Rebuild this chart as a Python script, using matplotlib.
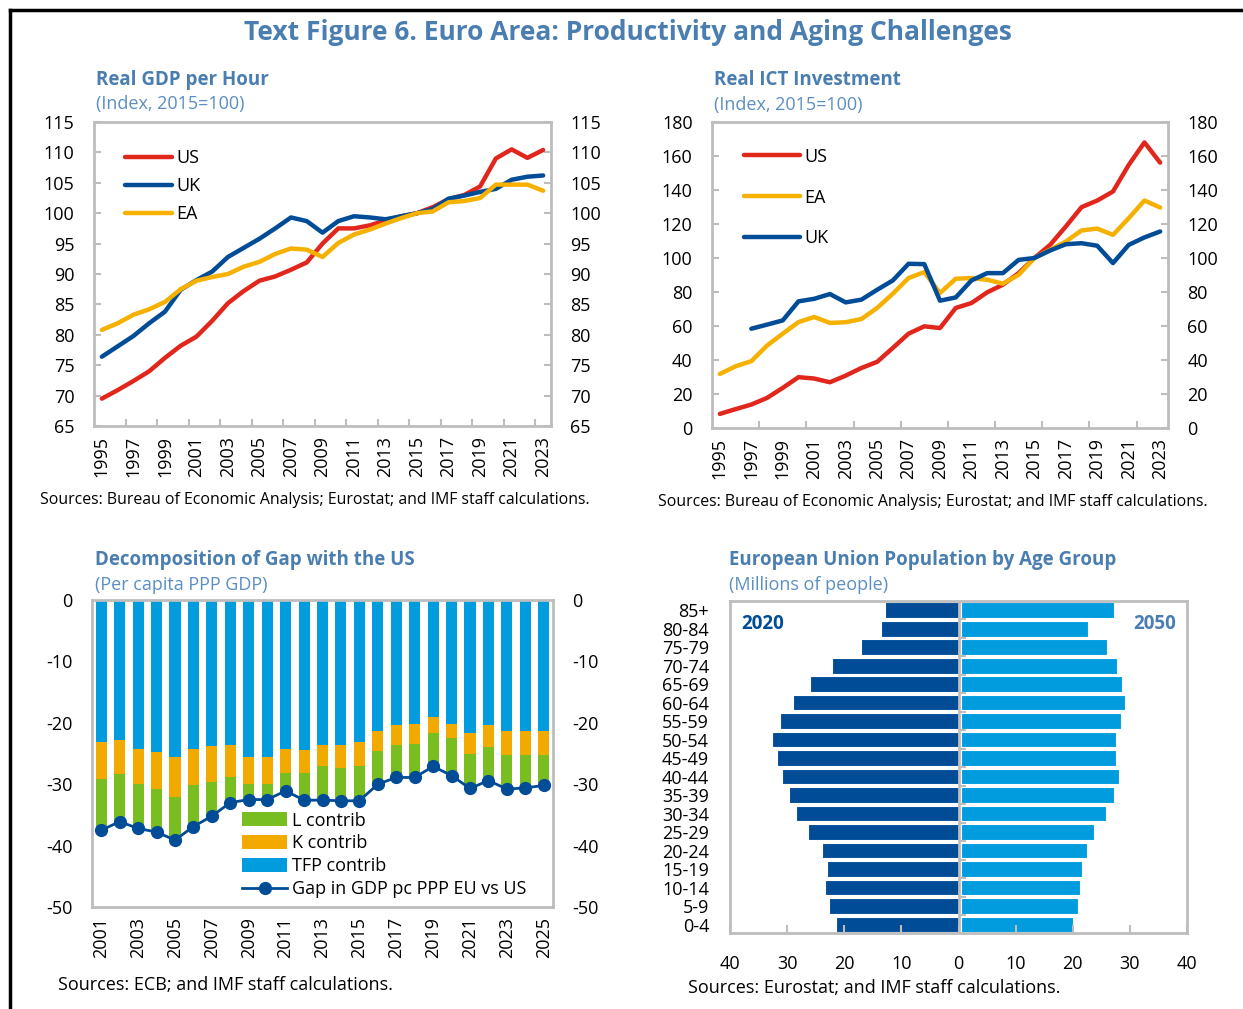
import matplotlib.pyplot as plt
import numpy as np
from matplotlib.lines import Line2D
from matplotlib.ticker import FuncFormatter

plt.rcParams['font.family'] = ['Open Sans', 'DejaVu Sans']
plt.rcParams['axes.unicode_minus'] = False

# ---- data ----
years = list(range(1995, 2024))

gdp_us = [69.5, 70.9, 72.4, 74.0, 76.2, 78.2, 79.7, 82.3, 85.2, 87.2, 88.9, 89.6, 90.7, 91.9,
          95.0, 97.5, 97.5, 98.0, 98.8, 99.5, 100.0, 101.0, 102.3, 103.0, 104.4, 109.0, 110.5,
          109.1, 110.4]
gdp_uk = [76.4, 78.1, 79.8, 81.9, 83.8, 87.4, 89.0, 90.4, 92.8, 94.3, 95.8, 97.5, 99.3, 98.7,
          96.8, 98.7, 99.5, 99.3, 99.0, 99.5, 100.0, 100.7, 102.4, 102.9, 103.5, 104.0, 105.5,
          106.0, 106.2]
gdp_ea = [80.8, 81.9, 83.3, 84.2, 85.4, 87.5, 88.9, 89.5, 90.0, 91.2, 92.0, 93.3, 94.2, 94.0,
          92.8, 95.1, 96.5, 97.3, 98.3, 99.2, 100.0, 100.3, 101.8, 102.0, 102.5, 104.7, 104.7,
          104.7, 103.7]

ict_us = [8.3, 11.1, 13.8, 17.7, 23.6, 29.9, 29.1, 26.9, 30.8, 35.3, 38.9, 47.1, 55.5, 59.8,
          58.8, 70.6, 73.5, 79.8, 84.3, 91.1, 100.0, 107.7, 118.5, 129.9, 133.8, 139.1, 154.7,
          168.0, 156.1]
ict_ea = [31.8, 36.3, 39.3, 48.5, 55.5, 62.3, 65.3, 61.8, 62.2, 64.1, 70.6, 79.0, 88.2, 91.7,
          79.4, 87.8, 88.2, 87.2, 84.9, 90.1, 100.0, 104.8, 109.7, 116.2, 117.3, 113.6, 123.4,
          133.8, 129.7]
ict_uk = [np.nan, np.nan, 58.4, 60.8, 63.3, 74.5, 76.0, 78.8, 73.9, 75.5, 81.3, 86.8, 96.6,
          96.4, 74.9, 76.8, 86.8, 91.1, 91.1, 98.9, 100.0, 104.4, 108.1, 108.7, 107.2, 97.0,
          107.7, 112.1, 115.6]

gap_years = list(range(2001, 2026))
tfp = [-23.1, -22.8, -24.2, -24.8, -25.6, -24.2, -23.7, -23.6, -25.5, -25.6, -24.3, -24.4,
       -23.6, -23.6, -23.1, -21.3, -20.4, -20.2, -19.0, -20.2, -21.6, -20.4, -21.4, -21.4, -21.3]
k_contrib = [-6.1, -5.6, -5.8, -6.0, -6.5, -6.0, -5.9, -5.3, -4.5, -4.3, -3.8, -3.7, -3.5,
             -3.8, -3.9, -3.3, -3.2, -3.3, -2.7, -2.3, -3.5, -3.5, -3.9, -3.9, -4.0]
l_contrib = [-8.3, -7.7, -7.2, -7.0, -7.0, -6.7, -5.6, -4.1, -2.5, -2.6, -3.0, -4.5, -5.5,
             -5.3, -5.7, -5.4, -5.3, -5.4, -5.4, -6.1, -5.6, -5.5, -5.5, -5.3, -4.9]
gap = [-37.5, -36.1, -37.2, -37.8, -39.1, -36.9, -35.2, -33.0, -32.5, -32.5, -31.1, -32.6,
       -32.6, -32.7, -32.7, -30.0, -28.9, -28.9, -27.1, -28.6, -30.7, -29.4, -30.8, -30.6, -30.2]

age_groups = ['0-4', '5-9', '10-14', '15-19', '20-24', '25-29', '30-34', '35-39', '40-44',
              '45-49', '50-54', '55-59', '60-64', '65-69', '70-74', '75-79', '80-84', '85+']
pop_2020 = [21.4, 22.6, 23.4, 23.1, 23.9, 26.3, 28.4, 29.6, 30.9, 31.8, 32.6, 31.3, 28.9,
            26.0, 22.1, 17.1, 13.6, 12.8]
pop_2050 = [19.6, 20.5, 20.9, 21.2, 22.1, 23.3, 25.5, 26.9, 27.7, 27.2, 27.1, 28.1, 28.7,
            28.2, 27.4, 25.6, 22.3, 26.8]

# ---- styles ----
W, H = 1243, 1009
RED = '#E1261C'
DBLUE = '#004C97'
YEL = '#F5B000'
SKY = '#009CDE'
ORANGE = '#F2A900'
GREEN = '#78BE20'
TITLE_C = '#4A7EB0'
SUB_C = '#5B8EC2'
FRAME_C = '#BDBDBD'
FS = 13

fig = plt.figure(figsize=(W / 100, H / 100), dpi=100)


def px_axes(l, t, r, b):
    return fig.add_axes([l / W, 1 - b / H, (r - l) / W, (b - t) / H])


def ftext(x, y, s, **kw):
    fig.text(x / W, 1 - y / H, s, va='center', **kw)


def frame(ax):
    for sp in ax.spines.values():
        sp.set_color(FRAME_C)
        sp.set_linewidth(2)


# border and main title
fig.add_artist(Line2D([10 / W, 10 / W], [0, 1 - 10 / H], color='black', lw=2.5))
fig.add_artist(Line2D([10 / W, 1], [1 - 10 / H, 1 - 10 / H], color='black', lw=2.5))
ftext(628, 32, 'Text Figure 6. Euro Area: Productivity and Aging Challenges',
      ha='center', fontsize=19, fontweight='bold', color=TITLE_C)


def line_panel(ax, series, ylim, yticks, minor):
    for vals, col, lab in series:
        ax.plot(years, vals, color=col, lw=3.2, label=lab, solid_capstyle='round')
    ax.set_xlim(1994.5, 2023.5)
    ax.set_ylim(*ylim)
    ax.set_yticks(yticks)
    ax.set_xticks(years[::2])
    ax.set_xticklabels([str(y) for y in years[::2]], rotation=90)
    ax.set_xticks(minor, minor=True)
    ax.tick_params(axis='x', which='major', length=0, labelsize=FS, pad=7)
    ax.tick_params(axis='x', which='minor', direction='in', length=5, width=1.5, color=FRAME_C)
    ax.tick_params(axis='y', direction='in', length=5, width=1.5, color=FRAME_C,
                   left=True, right=True, labelleft=True, labelright=True, labelsize=FS, pad=14)
    frame(ax)


# top left
ax1 = px_axes(94, 122, 551, 426)
line_panel(ax1, [(gdp_us, RED, 'US'), (gdp_uk, DBLUE, 'UK'), (gdp_ea, YEL, 'EA')],
           (65, 115), range(65, 116, 5), np.arange(1996.5, 2023, 2))
ax1.legend(loc='upper left', bbox_to_anchor=(0.052, 0.935), frameon=False, fontsize=FS,
           handlelength=2.6, handletextpad=0.25, labelspacing=0.55, borderaxespad=0)
ftext(96, 80, 'Real GDP per Hour', fontsize=13.5, fontweight='bold', color=TITLE_C)
ftext(96, 104, '(Index, 2015=100)', fontsize=13, color=SUB_C)
ftext(40, 500, 'Sources: Bureau of Economic Analysis; Eurostat; and IMF staff calculations.',
      fontsize=11.4)

# top right
ax2 = px_axes(712, 122, 1168, 428)
line_panel(ax2, [(ict_us, RED, 'US'), (ict_ea, YEL, 'EA'), (ict_uk, DBLUE, 'UK')],
           (0, 180), range(0, 181, 20), np.arange(1997.5, 2023, 3))
ax2.legend(loc='upper left', bbox_to_anchor=(0.055, 0.94), frameon=False, fontsize=FS,
           handlelength=3.1, handletextpad=0.2, labelspacing=1.27, borderaxespad=0)
ftext(714, 80, 'Real ICT Investment', fontsize=13.5, fontweight='bold', color=TITLE_C)
ftext(714, 105, '(Index, 2015=100)', fontsize=13, color=SUB_C)
ftext(658, 502, 'Sources: Bureau of Economic Analysis; Eurostat; and IMF staff calculations.',
      fontsize=11.4)

# bottom left
ax3 = px_axes(92, 600, 553, 907)
base_k = np.array(tfp)
base_l = base_k + np.array(k_contrib)
bw = 0.6
h_l = ax3.bar(gap_years, l_contrib, bw, bottom=base_l, color=GREEN, label='L contrib')
h_k = ax3.bar(gap_years, k_contrib, bw, bottom=base_k, color=ORANGE, label='K contrib')
h_t = ax3.bar(gap_years, tfp, bw, color=SKY, label='TFP contrib')
h_g, = ax3.plot(gap_years, gap, color=DBLUE, lw=2, marker='o', ms=8.5,
                label='Gap in GDP pc PPP EU vs US')
ax3.set_xlim(2000.5, 2025.5)
ax3.set_ylim(-50, 0)
ax3.set_yticks(range(-50, 1, 10))
ax3.set_xticks(gap_years[::2])
ax3.set_xticklabels([str(y) for y in gap_years[::2]], rotation=90)
ax3.tick_params(axis='x', length=0, labelsize=FS, pad=7)
ax3.tick_params(axis='y', length=0, left=True, right=True, labelleft=True, labelright=True,
                labelsize=FS, pad=14)
frame(ax3)
ax3.legend(handles=[h_l, h_k, h_t, h_g], loc='lower left', bbox_to_anchor=(0.31, 0.005),
           frameon=False, fontsize=FS, handlelength=2.5, handleheight=0.8,
           handletextpad=0.25, labelspacing=0.27, borderaxespad=0)
ftext(95, 560, 'Decomposition of Gap with the US', fontsize=13.5, fontweight='bold',
      color=TITLE_C)
ftext(95, 585, '(Per capita PPP GDP)', fontsize=13, color=SUB_C)
ftext(58, 985, 'Sources: ECB; and IMF staff calculations.', fontsize=13)

# bottom right
ax4 = px_axes(730, 601, 1187, 933)
ypos = np.arange(len(age_groups))
ax4.barh(ypos, [-v for v in pop_2020], 0.84, color=DBLUE, edgecolor='white', lw=0.8)
ax4.barh(ypos, pop_2050, 0.84, left=0.4, color=SKY, edgecolor='white', lw=0.8)
ax4.axvline(0, color=FRAME_C, lw=2, zorder=3)
ax4.hlines(ypos[:-1] + 0.5, 0, 1.3, color=FRAME_C, lw=1.5, zorder=3)
ax4.set_xlim(-40, 40)
ax4.set_ylim(-0.45, len(age_groups) - 0.5)
ax4.set_yticks(ypos)
ax4.set_yticklabels(age_groups)
ax4.set_xticks(range(-40, 41, 10))
ax4.xaxis.set_major_formatter(FuncFormatter(lambda v, p: f'{abs(v):.0f}'))
ax4.tick_params(axis='y', length=0, labelsize=FS, pad=15)
ax4.tick_params(axis='x', direction='in', length=6, width=1.5, color=FRAME_C,
                labelsize=FS, pad=16)
frame(ax4)
ax4.text(0.025, 0.96, '2020', transform=ax4.transAxes, ha='left', va='top', fontsize=13.5,
         fontweight='bold', color=DBLUE)
ax4.text(0.975, 0.96, '2050', transform=ax4.transAxes, ha='right', va='top', fontsize=13.5,
         fontweight='bold', color=TITLE_C)
ftext(729, 560, 'European Union Population by Age Group', fontsize=13.5, fontweight='bold',
      color=TITLE_C)
ftext(729, 585, '(Millions of people)', fontsize=13, color=SUB_C)
ftext(688, 988, 'Sources: Eurostat; and IMF staff calculations.', fontsize=13)

fig.savefig('out.png', dpi=100)
